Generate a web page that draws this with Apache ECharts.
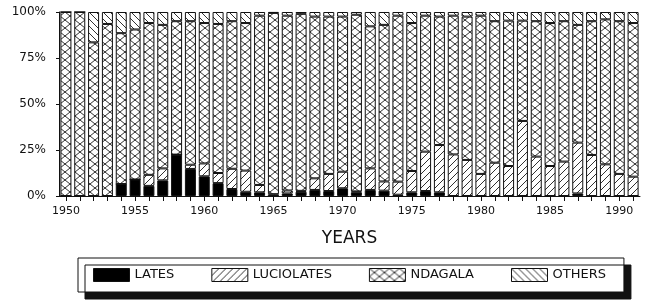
<!DOCTYPE html>
<html>
<head>
<meta charset="utf-8">
<script src="https://cdn.jsdelivr.net/npm/echarts@6/dist/echarts.min.js"></script>
<style>html,body{margin:0;padding:0;background:#fff}#c{width:650px;height:305px}</style>
</head>
<body>
<div id="c"></div>
<script>
const years = ['1950','1951','1952','1953','1954','1955','1956','1957','1958','1959',
  '1960','1961','1962','1963','1964','1965','1966','1967','1968','1969',
  '1970','1971','1972','1973','1974','1975','1976','1977','1978','1979',
  '1980','1981','1982','1983','1984','1985','1986','1987','1988','1989',
  '1990','1991'];
const lates = [0,0,0,0,6.5,9,5.5,8.5,22.5,14.7,
  10.7,7,3.8,2.3,2,0,1.4,2.3,3.3,2.7,
  4.2,2,3.3,2.9,0.7,2,2.7,2,0,0,
  0,0,0,0,0,0,0,1.4,0,0,
  0,0];
const luciolates = [0,0,0,0,0,0,6,6.5,0,2.3,
  7,5.5,11,11.5,4,1,1.6,0.5,6.3,9.3,
  9,0.5,11.7,5,7.1,11.6,21.4,25.7,22.6,19.6,
  12,18.1,16.3,40.8,21.4,16.3,18.7,27.6,22.3,17.2,
  12,10.5];
const ndagala = [100,100,83.5,93.5,82,81.5,82.5,78,72.5,78,
  76.3,81,80.2,80.2,92,98.5,95,96.2,87.9,85.5,
  84.3,96,77.2,85.1,90.2,80.4,73.9,69.8,75.4,77.9,
  86,76.9,79,54.5,73.6,77.7,76.3,64,72.7,78.8,
  83,83.5];
const others = [0,0,16.5,6.5,11.5,9.5,6,7,5,5,
  6,6.5,5,6,2,0.5,2,1,2.5,2.5,
  2.5,1.5,7.8,7,2,6,2,2.5,2,2.5,
  2,5,4.7,4.7,5,6,5,7,5,4,
  5,6];
const yTicks = [0,25,50,75,100];
const seriesNames = ['LATES','LUCIOLATES','NDAGALA','OTHERS'];

function makePattern(kind){
  const w = kind === 'x' ? 10 : 7;
  const h = kind === 'x' ? 8 : 7;
  const cv = document.createElement('canvas');
  cv.width = w; cv.height = h;
  const g = cv.getContext('2d');
  g.fillStyle = '#fff'; g.fillRect(0,0,w,h);
  g.strokeStyle = '#1a1a1a'; g.lineWidth = 0.9;
  g.beginPath();
  if (kind === 'x') {
    g.moveTo(0, 0); g.lineTo(w, h);
    g.moveTo(w, 0); g.lineTo(0, h);
  } else if (kind === '/') {
    g.moveTo(-1, h+1); g.lineTo(w+1, -1);
    g.moveTo(-1, 1); g.lineTo(1, -1); g.moveTo(w-1, h+1); g.lineTo(w+1, h-1);
  } else {
    g.moveTo(-1, -1); g.lineTo(w+1, h+1);
    g.moveTo(w-1, -1); g.lineTo(w+1, 1); g.moveTo(-1, h-1); g.lineTo(1, h+1);
  }
  g.stroke();
  return { image: cv, repeat: 'repeat' };
}
const fills = ['#000', makePattern('/'), makePattern('x'), makePattern('\\')];
const values = [lates, luciolates, ndagala, others];
const font = 'DejaVu Sans';

const chart = echarts.init(document.getElementById('c'), null, {renderer: 'canvas'});
chart.setOption({
  animation: false,
  backgroundColor: '#fff',
  grid: { left: 59, right: 10, top: 12, bottom: 109, containLabel: false },
  xAxis: {
    type: 'category',
    data: years,
    name: 'YEARS',
    nameLocation: 'middle',
    nameGap: 34,
    nameTextStyle: { fontFamily: font, fontSize: 17, color: '#111' },
    axisLine: { show: true, lineStyle: { color: '#111', width: 1 } },
    axisTick: { show: true, interval: 0, alignWithLabel: true, length: 5, lineStyle: { color: '#111' } },
    axisLabel: { interval: 4, margin: 10, fontFamily: font, fontSize: 11, color: '#111' },
    splitLine: { show: false }
  },
  yAxis: {
    type: 'value',
    min: 0, max: 100, interval: 25,
    axisLine: { show: true, lineStyle: { color: '#111', width: 1 } },
    axisTick: { show: true, length: 3, lineStyle: { color: '#111' } },
    axisLabel: { formatter: '{value}%', margin: 13, fontFamily: font, fontSize: 12, color: '#111' },
    splitLine: { show: false }
  },
  legend: {
    left: 78, top: 258,
    padding: [10, 18, 10, 15],
    itemWidth: 36, itemHeight: 13, itemGap: 37,
    icon: 'rect',
    backgroundColor: '#fff',
    borderColor: '#111', borderWidth: 1,
    shadowColor: '#111', shadowBlur: 0, shadowOffsetX: 7, shadowOffsetY: 7,
    textStyle: { fontFamily: font, fontSize: 13, color: '#111' },
    itemStyle: { borderColor: '#111', borderWidth: 1 },
    data: seriesNames
  },
  series: seriesNames.map((n, i) => ({
    name: n,
    type: 'bar',
    stack: 'all',
    barWidth: 11,
    data: values[i],
    itemStyle: { color: fills[i], borderColor: '#111', borderWidth: 1 }
  }))
});
</script>
</body>
</html>
